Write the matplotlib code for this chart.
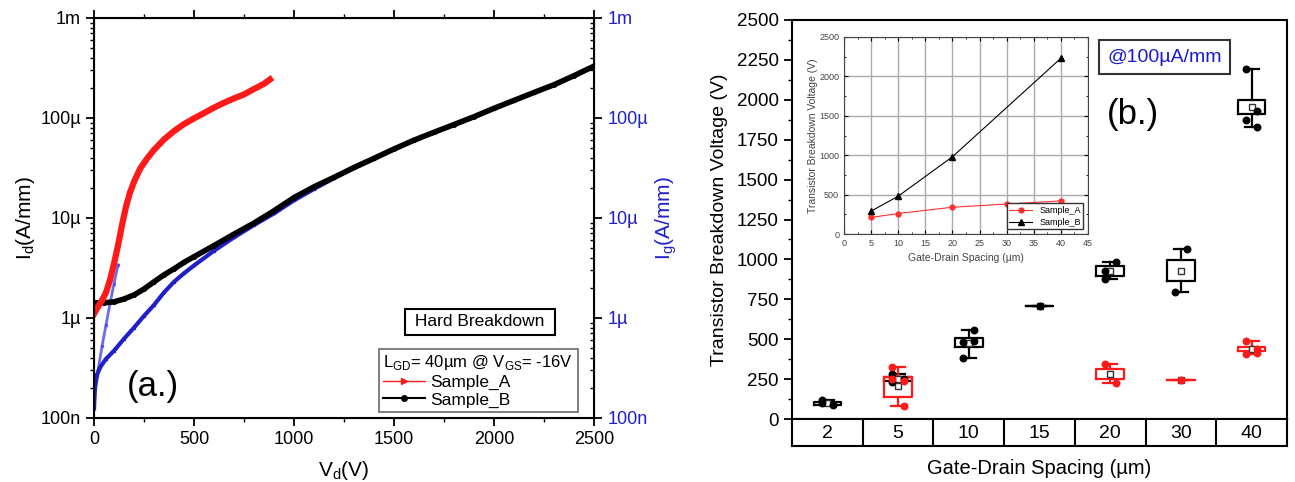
import matplotlib
matplotlib.use("Agg")
import matplotlib.pyplot as plt
from matplotlib.lines import Line2D
from matplotlib.ticker import FixedLocator, FixedFormatter, LogLocator, NullFormatter, MultipleLocator

plt.rcParams['font.family'] = ['Liberation Sans', 'DejaVu Sans']
plt.rcParams['mathtext.fontset'] = 'custom'
plt.rcParams['mathtext.rm'] = 'Liberation Sans'

# ---- panel (a) data: I-V curves ----
va = [0, 20, 40, 60, 80, 100, 120, 140, 160, 180, 200, 230, 260, 300, 350, 400, 450, 500,
      550, 600, 650, 700, 750, 800, 850, 880]
ida = [1.1e-6, 1.3e-6, 1.5e-6, 1.8e-6, 2.4e-6, 3.5e-6, 5.3e-6, 8.5e-6, 13e-6, 18e-6, 23e-6,
       31e-6, 38e-6, 48e-6, 61e-6, 74e-6, 87e-6, 99e-6, 112e-6, 127e-6, 142e-6, 157e-6,
       172e-6, 195e-6, 220e-6, 243e-6]

vb = [0, 50, 100, 150, 200, 250, 300, 350, 400, 450, 500, 600, 700, 800, 900, 1000, 1100,
      1200, 1300, 1400, 1500, 1600, 1700, 1800, 1900, 2000, 2100, 2200, 2300, 2400, 2500]
idb = [1.42e-6, 1.42e-6, 1.45e-6, 1.55e-6, 1.7e-6, 1.95e-6, 2.3e-6, 2.7e-6, 3.1e-6, 3.6e-6,
       4.1e-6, 5.3e-6, 6.9e-6, 8.9e-6, 11.8e-6, 16e-6, 20.5e-6, 25.5e-6, 32e-6, 39.5e-6,
       49e-6, 60e-6, 72e-6, 86e-6, 103e-6, 125e-6, 150e-6, 180e-6, 215e-6, 265e-6, 330e-6]

vg = [0, 5, 15, 30, 60, 100, 150, 200, 250, 300, 350, 400, 450, 500, 600, 700, 800, 900,
      1000, 1100, 1200, 1300, 1400, 1500, 1600, 1700, 1800, 1900, 2000, 2100, 2200, 2300,
      2400, 2500]
igb = [125e-9, 200e-9, 270e-9, 320e-9, 390e-9, 470e-9, 620e-9, 800e-9, 1.05e-6, 1.35e-6,
       1.8e-6, 2.3e-6, 2.8e-6, 3.35e-6, 4.7e-6, 6.4e-6, 8.5e-6, 11.1e-6, 15e-6, 19.5e-6,
       25e-6, 31.5e-6, 39e-6, 48.5e-6, 59.5e-6, 71.5e-6, 85.5e-6, 102e-6, 124e-6, 149e-6,
       179e-6, 214e-6, 264e-6, 329e-6]

vga = [0, 20, 40, 60, 80, 100, 120]
iga = [170e-9, 300e-9, 520e-9, 850e-9, 1.4e-6, 2.2e-6, 3.4e-6]

log_ticks = [1e-7, 1e-6, 1e-5, 1e-4, 1e-3]
log_labels = ['100n', '1µ', '10µ', '100µ', '1m']

# ---- panel (b) data: breakdown box stats ----
spacing = ['2', '5', '10', '15', '20', '30', '40']

b_pos = [1, 2, 3, 4, 5, 6, 7]
b_q1 = [88, 240, 450, 705, 898, 862, 1913]
b_q3 = [107, 262, 505, 705, 957, 997, 1997]
b_lo = [85, 240, 385, 705, 877, 793, 1831]
b_hi = [120, 282, 559, 705, 982, 1066, 2190]
b_mean = [100, 250, 478, 705, 929, 929, 1955]
b_pts = [[120, 85, 100], [234, 249, 282], [385, 490, 480, 559], [705],
         [877, 982, 929], [793, 1066], [1873, 1932, 2190, 1831]]

r_pos = [2, 5, 6, 7]
r_q1 = [140, 253, 243, 427]
r_q3 = [262, 312, 243, 452]
r_lo = [82, 225, 243, 405]
r_hi = [325, 345, 243, 490]
r_mean = [205, 285, 243, 440]
r_pts = [[325, 82, 250, 240], [345, 225], [243], [490, 415, 405, 440]]

# inset
ins_x_a = [5, 10, 20, 30, 40]
ins_a = [210, 260, 340, 380, 420]
ins_x_b = [5, 10, 20, 40]
ins_b = [290, 480, 980, 2230]

BLUE = '#2020c8'
RED = '#ff1a1a'

fig = plt.figure(figsize=(12.95, 4.82), dpi=100)

# ================= panel (a) =================
ax = fig.add_axes([94 / 1295, 1 - 418 / 482, 500 / 1295, 400 / 482])
ax.plot(vga, iga, color='#4848e8', lw=2, marker='x', ms=2, alpha=0.8, zorder=2)
ax.plot(vg, igb, color=BLUE, lw=3, marker='x', ms=2, zorder=2)
ax.plot(vb, idb, color='black', lw=4, marker='o', ms=2.5, zorder=3)
ax.plot(va, ida, color=RED, lw=4.5, marker='>', ms=3, zorder=4)

ax.set_yscale('log')
ax.set_ylim(1e-7, 1e-3)
ax.set_xlim(0, 2500)
ax.yaxis.set_major_locator(FixedLocator(log_ticks))
ax.yaxis.set_major_formatter(FixedFormatter(log_labels))
ax.yaxis.set_minor_locator(LogLocator(base=10, subs=range(2, 10)))
ax.yaxis.set_minor_formatter(NullFormatter())
ax.xaxis.set_major_locator(MultipleLocator(500))
ax.xaxis.set_minor_locator(MultipleLocator(250))
ax.tick_params(which='both', direction='out', labelsize=13)
ax.tick_params(which='major', length=6, width=1.3)
ax.tick_params(which='minor', length=3, width=1)
ax.tick_params(axis='x', which='both', top=True)
for s in ax.spines.values():
    s.set_linewidth(1.5)
ax.set_ylabel(r'I$_\mathrm{d}$(A/mm)', fontsize=15, labelpad=2)
ax.set_xlabel(r'V$_\mathrm{d}$(V)', fontsize=15, labelpad=8)

ax2 = ax.twinx()
ax2.set_yscale('log')
ax2.set_ylim(1e-7, 1e-3)
ax2.yaxis.set_major_locator(FixedLocator(log_ticks))
ax2.yaxis.set_major_formatter(FixedFormatter(log_labels))
ax2.yaxis.set_minor_locator(LogLocator(base=10, subs=range(2, 10)))
ax2.yaxis.set_minor_formatter(NullFormatter())
ax2.tick_params(which='both', direction='out', labelsize=13, labelcolor=BLUE)
ax2.tick_params(which='major', length=6, width=1.3)
ax2.tick_params(which='minor', length=3, width=1, direction='in')
ax2.set_ylabel(r'I$_\mathrm{g}$(A/mm)', fontsize=15, color=BLUE, labelpad=4)

ax.text(0.772, 0.24, ' Hard Breakdown ', transform=ax.transAxes, fontsize=12.5,
        ha='center', va='center',
        bbox=dict(boxstyle='square,pad=0.3', fc='white', ec='black', lw=1.5))
ax.text(0.118, 0.078, '(a.)', transform=ax.transAxes, fontsize=25, ha='center', va='center')

handles = [Line2D([], [], color=RED, lw=1, marker='>', ms=5),
           Line2D([], [], color='black', lw=1.5, marker='o', ms=4)]
leg = ax.legend(handles, ['Sample_A', 'Sample_B'], loc='lower right',
                bbox_to_anchor=(0.967, 0.015),
                title=r'L$_\mathrm{GD}$= 40µm @ V$_\mathrm{GS}$= -16V', title_fontsize=12,
                fontsize=12.5, frameon=True, fancybox=False, edgecolor='#444444',
                handlelength=2.4, handletextpad=0.3, borderpad=0.25, labelspacing=0.15,
                borderaxespad=0)
leg.get_frame().set_linewidth(1.2)
leg._legend_box.align = 'left'

# ================= panel (b) =================
bx = fig.add_axes([792 / 1295, 1 - 419 / 482, 495 / 1295, 399 / 482])


def stats(q1, q3, lo, hi, mean):
    return [dict(q1=a, q3=b, whislo=c, whishi=d, mean=e, med=e, fliers=[])
            for a, b, c, d, e in zip(q1, q3, lo, hi, mean)]


for pos, st, pts, col in [(b_pos, stats(b_q1, b_q3, b_lo, b_hi, b_mean), b_pts, 'black'),
                          (r_pos, stats(r_q1, r_q3, r_lo, r_hi, r_mean), r_pts, RED)]:
    bx.bxp(st, positions=pos, widths=0.39, showmeans=True, manage_ticks=False,
           boxprops=dict(color=col, lw=1.6), whiskerprops=dict(color=col, lw=1.6),
           capprops=dict(color=col, lw=1.6), medianprops=dict(lw=0),
           meanprops=dict(marker='s', mfc='white', mec='#333333', ms=5, mew=1))
    for p, vals in zip(pos, pts):
        offs = [(-0.08 + 0.16 * (i % 2)) if len(vals) > 1 else 0 for i in range(len(vals))]
        bx.scatter([p + o for o in offs], vals, s=22, color=col, zorder=4)

bx.set_xlim(0.5, 7.5)
bx.set_ylim(0, 2500)
bx.set_xticks([])
bx.yaxis.set_major_locator(MultipleLocator(250))
bx.yaxis.set_minor_locator(MultipleLocator(125))
bx.tick_params(axis='y', which='both', direction='out', labelsize=13.5)
bx.tick_params(axis='y', which='major', length=6, width=1.3)
bx.tick_params(axis='y', which='minor', length=3, width=1)
for s in bx.spines.values():
    s.set_linewidth(1.5)
bx.set_ylabel('Transistor Breakdown Voltage (V)', fontsize=14, labelpad=6)

bx.text(0.753, 0.907, '@100µA/mm', transform=bx.transAxes, fontsize=14,
        color='#1a1ad0', ha='center', va='center',
        bbox=dict(boxstyle='square,pad=0.42', fc='white', ec='#333333', lw=1.5))
bx.text(0.689, 0.762, '(b.)', transform=bx.transAxes, fontsize=25, ha='center', va='center')

# category table under panel (b)
tb = fig.add_axes([792 / 1295, 1 - 446 / 482, 495 / 1295, 27 / 482])
tb.set_xlim(0.5, 7.5)
tb.set_ylim(0, 1)
tb.set_xticks([])
tb.set_yticks([])
for s in tb.spines.values():
    s.set_linewidth(1.5)
for i, lab in enumerate(spacing):
    tb.text(i + 1, 0.48, lab, fontsize=14, ha='center', va='center')
    if i > 0:
        tb.axvline(i + 0.5, color='black', lw=1.5)
tb.set_xlabel('Gate-Drain Spacing (µm)', fontsize=14.5, labelpad=9)

# inset
ins = fig.add_axes([844 / 1295, 1 - 234 / 482, 244 / 1295, 197 / 482])
ins.plot(ins_x_a, ins_a, color='#ff3030', lw=0.8, marker='o', ms=3.5, label='Sample_A')
ins.plot(ins_x_b, ins_b, color='black', lw=0.8, marker='^', ms=4, label='Sample_B')
ins.set_xlim(0, 45)
ins.set_ylim(0, 2500)
ins.xaxis.set_major_locator(MultipleLocator(5))
ins.yaxis.set_major_locator(MultipleLocator(500))
ins.xaxis.set_minor_locator(MultipleLocator(2.5))
ins.yaxis.set_minor_locator(MultipleLocator(250))
ins.grid(True, which='major', color='#aaaaaa', lw=1)
ins.tick_params(which='both', direction='in', labelsize=6.5, labelcolor='#444444',
                top=True, right=True)
ins.tick_params(which='major', length=3)
ins.tick_params(which='minor', length=1.5)
for s in ins.spines.values():
    s.set_color('#444444')
ins.set_xlabel('Gate-Drain Spacing (µm)', fontsize=7.5, color='#444444', labelpad=4)
ins.set_ylabel('Transistor Breakdown Voltage (V)', fontsize=7.5, color='#444444', labelpad=1)
ileg = ins.legend(loc='lower right', fontsize=6.5, fancybox=False, edgecolor='#333333',
                  handlelength=2.5, borderpad=0.3, labelspacing=0.3, framealpha=1)

fig.savefig('out.png', dpi=100)
